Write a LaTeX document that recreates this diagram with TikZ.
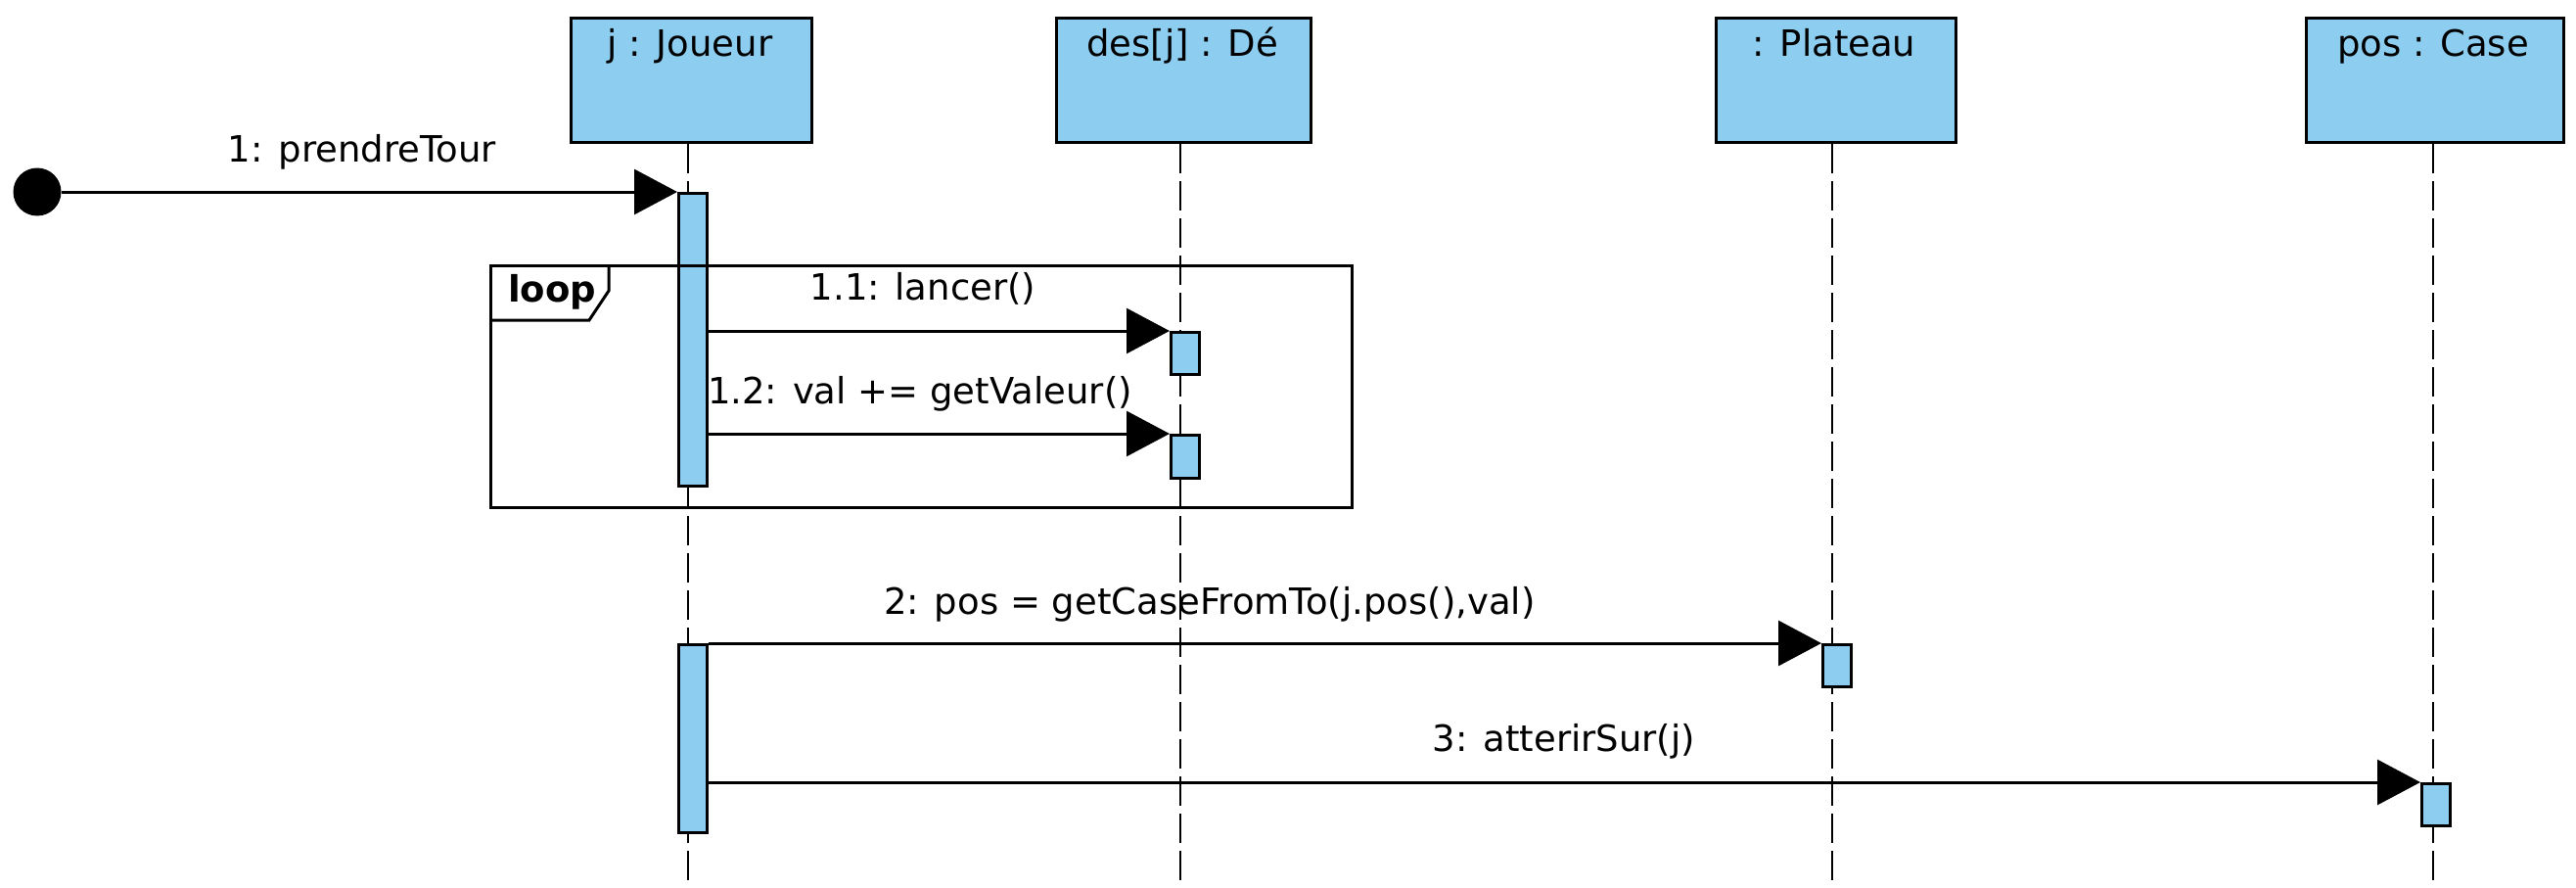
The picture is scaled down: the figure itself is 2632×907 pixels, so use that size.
\documentclass[tikz,border=0pt]{standalone}
\usepackage{fontspec}
\setmainfont{DejaVu Sans}
\usetikzlibrary{arrows.meta}
\definecolor{objblue}{RGB}{140,205,240}
\begin{document}
\begin{tikzpicture}[x=1pt,y=-1pt,
  objbox/.style={draw=black, fill=objblue, line width=3pt, inner sep=0pt, anchor=north west, minimum height=127pt},
  objtitle/.style={anchor=base, inner sep=0pt, font=\fontsize{37}{44}\selectfont},
  lifeline/.style={line width=2.5pt, dash pattern=on 30pt off 8pt},
  actbar/.style={draw=black, fill=objblue, line width=2.5pt, inner sep=0pt, minimum width=29pt, anchor=north west},
  msg/.style={line width=3pt, -{Triangle[length=44pt,width=46pt]}},
  msglabel/.style={anchor=base, inner sep=0pt, font=\fontsize{37}{44}\selectfont},
  frameline/.style={draw=black, line width=3pt},
]
\fill[white] (0,0) rectangle (2632,907);
\useasboundingbox (0,0) rectangle (2632,907);

% objects
\node[objbox, minimum width=246pt] (joueur) at (582,17) {};
\node[objbox, minimum width=260pt] (de) at (1078,17) {};
\node[objbox, minimum width=245pt] (plateau) at (1752,17) {};
\node[objbox, minimum width=263pt] (case) at (2355,17) {};
\node[objtitle] (tjoueur) at (705,58) {j : Joueur};
\node[objtitle] (tde) at (1208,58) {des[j] : Dé};
\node[objtitle] (tplateau) at (1874,58) {: Plateau};
\node[objtitle] (tcase) at (2486,58) {pos : Case};

% lifelines
\coordinate (jend) at (703,907);
\coordinate (dend) at (1206,907);
\coordinate (pend) at (1872,907);
\coordinate (cend) at (2486,907);
\draw[lifeline] (joueur.south -| jend) -- (jend);
\draw[lifeline] (de.south -| dend) -- (dend);
\draw[lifeline] (plateau.south -| pend) -- (pend);
\draw[lifeline] (case.south -| cend) -- (cend);

% activations
\node[actbar, minimum height=299pt] (a1) at (692,196) {};
\node[actbar, minimum height=43pt] (d1) at (1195,338) {};
\node[actbar, minimum height=44pt] (d2) at (1195,443) {};
\node[actbar, minimum height=192pt] (a2) at (692,657) {};
\node[actbar, minimum height=43pt] (p1) at (1861,657) {};
\node[actbar, minimum height=43pt] (c1) at (2473,799) {};

% loop frame
\coordinate (fnw) at (501,271);
\coordinate (fse) at (1381,518);
\draw[frameline] (fnw) rectangle (fse);
\draw[frameline] (501,327) -- (602,327) -- (622,297) -- (622,271);
\node[anchor=base west, inner sep=0pt, font=\bfseries\fontsize{37}{44}\selectfont] (looplabel) at (519,308) {loop};

% start
\node[circle, fill=black, minimum size=49pt, inner sep=0pt] (start) at (38,196) {};

% messages
\draw[msg] (start) -- (a1.north west);
\draw[msg] (a1.east |- d1.north west) -- (d1.north west);
\draw[msg] (a1.east |- d2.north west) -- (d2.north west);
\draw[msg] (a2.north east) -- (p1.north west);
\draw[msg] (a2.east |- c1.north west) -- (c1.north west);

\node[msglabel] (l1) at (370,165) {1: prendreTour};
\node[msglabel] (l11) at (943,306) {1.1: lancer()};
\node[msglabel] (l12) at (940,412) {1.2: val += getValeur()};
\node[msglabel] (l2) at (1236,627) {2: pos = getCaseFromTo(j.pos(),val)};
\node[msglabel] (l3) at (1598,767) {3: atterirSur(j)};
\end{tikzpicture}
\end{document}
